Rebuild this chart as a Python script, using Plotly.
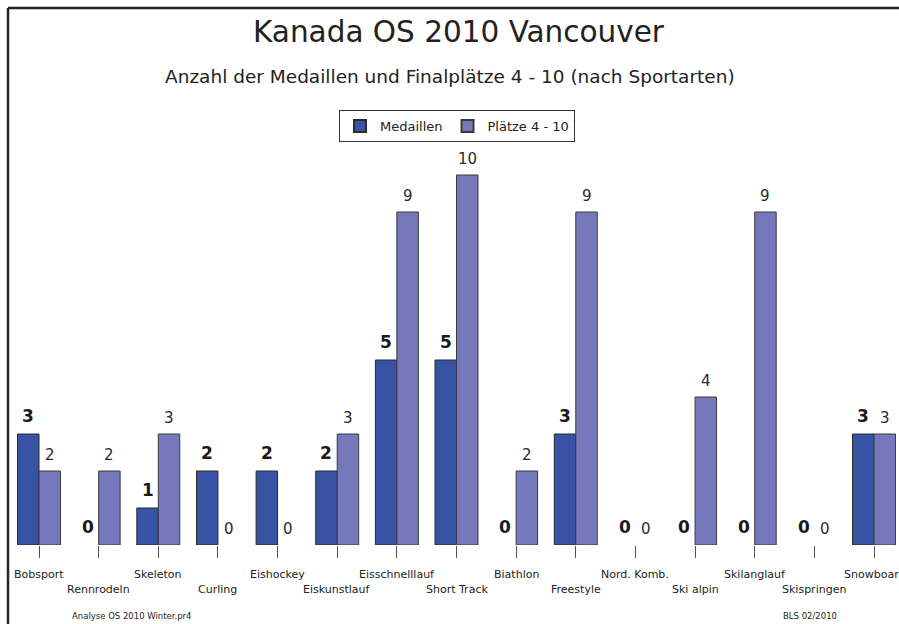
import plotly.graph_objects as go

# Sport categories and counts
sportarten = ["Bobsport", "Rennrodeln", "Skeleton", "Curling", "Eishockey",
              "Eiskunstlauf", "Eisschnelllauf", "Short Track", "Biathlon",
              "Freestyle", "Nord. Komb.", "Ski alpin", "Skilanglauf",
              "Skispringen", "Snowboard"]
medaillen = [3, 0, 1, 2, 2, 2, 5, 5, 0, 3, 0, 0, 0, 0, 3]
plaetze_4_10 = [2, 2, 3, 0, 0, 3, 9, 10, 2, 9, 0, 4, 9, 0, 3]

W, H = 899, 624
FONT = "DejaVu Sans"
DARK = "#3853A3"
LIGHT = "#7578BA"
TXT = "#222222"

x_idx = list(range(len(sportarten)))
bargap = 0.28
half = (1 - bargap) / 4  # centre offset of each bar within a group


def px_y(py):
    return (H - py) / H


def px_x(px):
    return px / W


def outline_widths(values):
    # no outline on empty bars, so they leave no stroke on the baseline
    return [1 if v > 0 else 0 for v in values]


fig = go.Figure()
fig.add_trace(go.Bar(
    x=x_idx, y=medaillen, name="Medaillen",
    marker=dict(color=DARK,
                line=dict(color="#2a2a2a", width=outline_widths(medaillen))),
))
fig.add_trace(go.Bar(
    x=x_idx, y=plaetze_4_10, name="Plätze 4 - 10",
    marker=dict(color=LIGHT,
                line=dict(color="#3a3a3a", width=outline_widths(plaetze_4_10))),
))

annotations = []
# value labels above each bar
for i, (m, p) in enumerate(zip(medaillen, plaetze_4_10)):
    annotations.append(dict(
        x=i - half, y=m, xref="x", yref="y", text=str(m), showarrow=False,
        xanchor="center", yanchor="bottom", yshift=6,
        font=dict(family=FONT, size=17, color="#1a1a1a", weight="bold"),
    ))
    annotations.append(dict(
        x=i + half, y=p, xref="x", yref="y", text=str(p), showarrow=False,
        xanchor="center", yanchor="bottom", yshift=5,
        font=dict(family=FONT, size=15, color="#2a2a2a"),
    ))

# category labels, staggered on two rows
for i, name in enumerate(sportarten):
    annotations.append(dict(
        x=i, y=px_y(574 if i % 2 == 0 else 589), xref="x", yref="paper",
        text=name, showarrow=False, xanchor="center", yanchor="middle",
        font=dict(family=FONT, size=11, color=TXT),
    ))

# title block
annotations.append(dict(
    x=px_x(459), y=px_y(32), xref="paper", yref="paper",
    text="Kanada OS 2010 Vancouver", showarrow=False,
    xanchor="center", yanchor="middle",
    font=dict(family=FONT, size=29.5, color=TXT),
))
annotations.append(dict(
    x=px_x(450), y=px_y(76), xref="paper", yref="paper",
    text="Anzahl der Medaillen und Finalplätze 4 - 10 (nach Sportarten)",
    showarrow=False, xanchor="center", yanchor="middle",
    font=dict(family=FONT, size=18.5, color=TXT),
))

# footer notes
annotations.append(dict(
    x=px_x(132), y=px_y(616), xref="paper", yref="paper",
    text="Analyse OS 2010 Winter.pr4", showarrow=False,
    xanchor="center", yanchor="middle",
    font=dict(family=FONT, size=8.5, color=TXT),
))
annotations.append(dict(
    x=px_x(810), y=px_y(616), xref="paper", yref="paper",
    text="BLS 02/2010", showarrow=False,
    xanchor="center", yanchor="middle",
    font=dict(family=FONT, size=8.5, color=TXT),
))

# outer frame (left and top edges)
shapes = [
    dict(type="line", xref="paper", yref="paper",
         x0=px_x(8), x1=px_x(8), y0=px_y(8), y1=-0.05,
         line=dict(color="#222222", width=2.5)),
    dict(type="line", xref="paper", yref="paper",
         x0=px_x(8), x1=1.05, y0=px_y(8), y1=px_y(8),
         line=dict(color="#222222", width=2.5)),
]

spacing = (874 - 39) / 14.0
x0 = -39 / spacing
x1 = (W - 39) / spacing

fig.update_layout(
    width=W, height=H,
    margin=dict(l=0, r=0, t=0, b=0),
    paper_bgcolor="white", plot_bgcolor="white",
    barmode="group", bargap=bargap, bargroupgap=0,
    showlegend=True,
    legend=dict(
        orientation="h", x=px_x(457), xanchor="center",
        y=px_y(110), yanchor="top",
        bordercolor="#333333", borderwidth=1,
        font=dict(family=FONT, size=13, color=TXT),
        itemsizing="constant",
    ),
    xaxis=dict(
        domain=[0, 1], range=[x0, x1],
        tickmode="array", tickvals=x_idx, showticklabels=False,
        ticks="outside", ticklen=12, tickwidth=1, tickcolor="#555555",
        showgrid=False, zeroline=False, showline=False,
    ),
    yaxis=dict(
        domain=[px_y(545), px_y(138)], range=[0, 11],
        visible=False, showgrid=False, zeroline=False,
    ),
    annotations=annotations,
    shapes=shapes,
)

fig.write_html("out.html")
